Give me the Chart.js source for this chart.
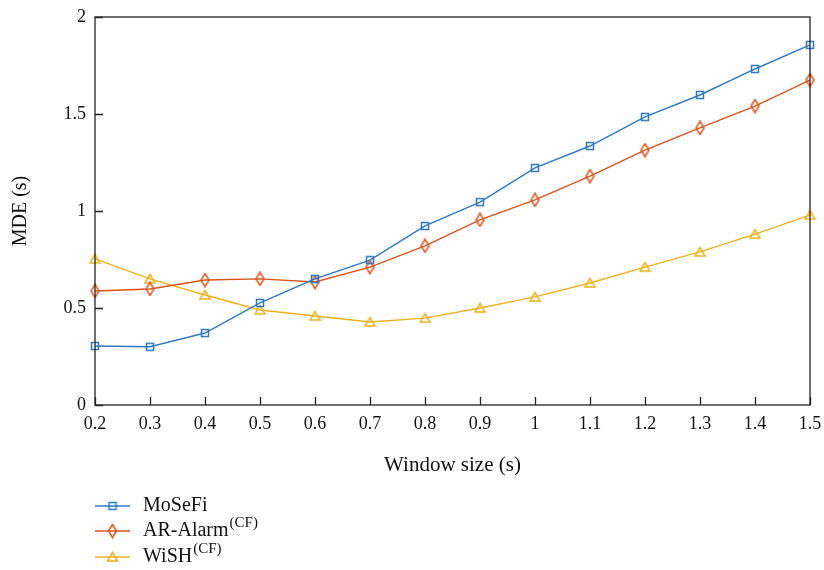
<!DOCTYPE html>
<html>
<head>
<meta charset="utf-8">
<title>MDE vs window size</title>
<script src="https://cdn.jsdelivr.net/npm/chart.js@4.4.1/dist/chart.umd.min.js"></script>
<style>
  html, body { margin: 0; padding: 0; background: #fff; }
  canvas { display: block; }
</style>
</head>
<body>
<canvas id="mdeChart" width="824" height="570"></canvas>
<script>
// window sizes (s) along the x axis
const windowSizes = ['0.2', '0.3', '0.4', '0.5', '0.6', '0.7', '0.8', '0.9', '1', '1.1', '1.2', '1.3', '1.4', '1.5'];

// MDE (s) per method
const moSeFi  = [0.304, 0.300, 0.371, 0.526, 0.650, 0.747, 0.923, 1.046, 1.222, 1.335, 1.485, 1.598, 1.732, 1.856];
const arAlarm = [0.588, 0.598, 0.644, 0.650, 0.634, 0.711, 0.820, 0.954, 1.057, 1.180, 1.314, 1.428, 1.541, 1.675];
const wiSH    = [0.753, 0.650, 0.567, 0.490, 0.459, 0.428, 0.448, 0.500, 0.557, 0.629, 0.711, 0.789, 0.881, 0.979];

const seriesNames = ['MoSeFi', 'AR-Alarm', 'WiSH'];
const seriesSup = ['', '(CF)', '(CF)'];
const seriesColors = ['#2f78c0', '#d95319', '#edb120'];
const markerKinds = ['square', 'diamond', 'triangle'];

const FONT = '"Liberation Serif", "DejaVu Serif", serif';

// hollow marker sprites, used both on the lines and in the legend
function makeMarker(kind, color) {
  const c = document.createElement('canvas');
  let w, h;
  if (kind === 'square') { w = 10; h = 10; }
  else if (kind === 'diamond') { w = 11; h = 15; }
  else { w = 13; h = 12; }
  c.width = w; c.height = h;
  const g = c.getContext('2d');
  g.strokeStyle = color;
  g.lineWidth = 1.5;
  g.beginPath();
  if (kind === 'square') {
    g.rect(1.5, 1.5, w - 3, h - 3);
  } else if (kind === 'diamond') {
    g.moveTo(w / 2, 1); g.lineTo(w - 1.5, h / 2); g.lineTo(w / 2, h - 1); g.lineTo(1.5, h / 2); g.closePath();
  } else {
    g.moveTo(w / 2, 1.5); g.lineTo(w - 1.5, h - 2); g.lineTo(1.5, h - 2); g.closePath();
  }
  g.stroke();
  return c;
}

const markers = markerKinds.map((k, i) => makeMarker(k, seriesColors[i]));

// frame around the plot area plus inward tick marks
const framePlugin = {
  id: 'frame',
  afterDatasetsDraw(chart) {
    const { ctx, chartArea: a, scales } = chart;
    ctx.save();
    ctx.strokeStyle = '#222';
    ctx.lineWidth = 1.3;
    ctx.strokeRect(a.left, a.top, a.right - a.left, a.bottom - a.top);
    ctx.beginPath();
    scales.y.ticks.forEach(t => {
      const y = Math.round(scales.y.getPixelForValue(t.value)) + 0.5;
      ctx.moveTo(a.left, y); ctx.lineTo(a.left + 8, y);
    });
    scales.x.ticks.forEach((t, i) => {
      const x = Math.round(scales.x.getPixelForTick(i)) + 0.5;
      ctx.moveTo(x, a.bottom); ctx.lineTo(x, a.bottom - 8);
    });
    ctx.stroke();
    ctx.restore();
  }
};

// legend below the chart with superscript suffixes
const legendPlugin = {
  id: 'supLegend',
  afterDraw(chart) {
    const { ctx } = chart;
    const x0 = 95, lineLen = 35, textX = 143;
    const rows = [506, 531, 557];
    ctx.save();
    chart.data.datasets.forEach((ds, i) => {
      const y = rows[i];
      ctx.strokeStyle = ds.borderColor;
      ctx.lineWidth = 1.5;
      ctx.beginPath();
      ctx.moveTo(x0, y); ctx.lineTo(x0 + lineLen, y);
      ctx.stroke();
      const m = markers[i];
      ctx.drawImage(m, x0 + lineLen / 2 - m.width / 2, y - m.height / 2);
      ctx.fillStyle = '#111';
      ctx.textBaseline = 'middle';
      ctx.font = '20px ' + FONT;
      ctx.fillText(seriesNames[i], textX, y);
      if (seriesSup[i]) {
        const w = ctx.measureText(seriesNames[i]).width;
        ctx.font = '15px ' + FONT;
        ctx.fillText(seriesSup[i], textX + w + 1, y - 8);
      }
    });
    ctx.restore();
  }
};

const datasets = [moSeFi, arAlarm, wiSH].map((vals, i) => ({
  label: seriesNames[i] + seriesSup[i],
  data: vals,
  borderColor: seriesColors[i],
  backgroundColor: seriesColors[i],
  borderWidth: 1.4,
  tension: 0,
  pointStyle: markers[i],
  pointRadius: 5,
  pointHoverRadius: 5,
  clip: false
}));

new Chart(document.getElementById('mdeChart'), {
  type: 'line',
  data: { labels: windowSizes, datasets: datasets },
  options: {
    responsive: false,
    animation: false,
    devicePixelRatio: 1,
    layout: { padding: { left: 0, right: 14, top: 17, bottom: 92 } },
    plugins: { legend: { display: false }, tooltip: { enabled: false } },
    scales: {
      x: {
        type: 'category',
        offset: false,
        grid: { display: false, drawTicks: false },
        border: { display: false },
        ticks: { color: '#111', font: { family: FONT, size: 18 }, padding: 8, maxRotation: 0, autoSkip: false },
        title: { display: true, text: 'Window size (s)', color: '#111', font: { family: FONT, size: 21 }, padding: 0 },
        afterFit(scale) { scale.height = 73; scale.paddingLeft = 0; scale.paddingRight = 0; }
      },
      y: {
        min: 0,
        max: 2,
        grid: { display: false, drawTicks: false },
        border: { display: false },
        ticks: { stepSize: 0.5, color: '#111', font: { family: FONT, size: 18 }, padding: 9,
                 callback: v => String(+v.toFixed(1)) },
        title: { display: true, text: 'MDE (s)', color: '#111', font: { family: FONT, size: 20 }, padding: { top: 9, bottom: 0 } },
        afterFit(scale) { scale.width = 95; scale.paddingTop = 0; scale.paddingBottom = 0; }
      }
    }
  },
  plugins: [framePlugin, legendPlugin]
});
</script>
</body>
</html>
